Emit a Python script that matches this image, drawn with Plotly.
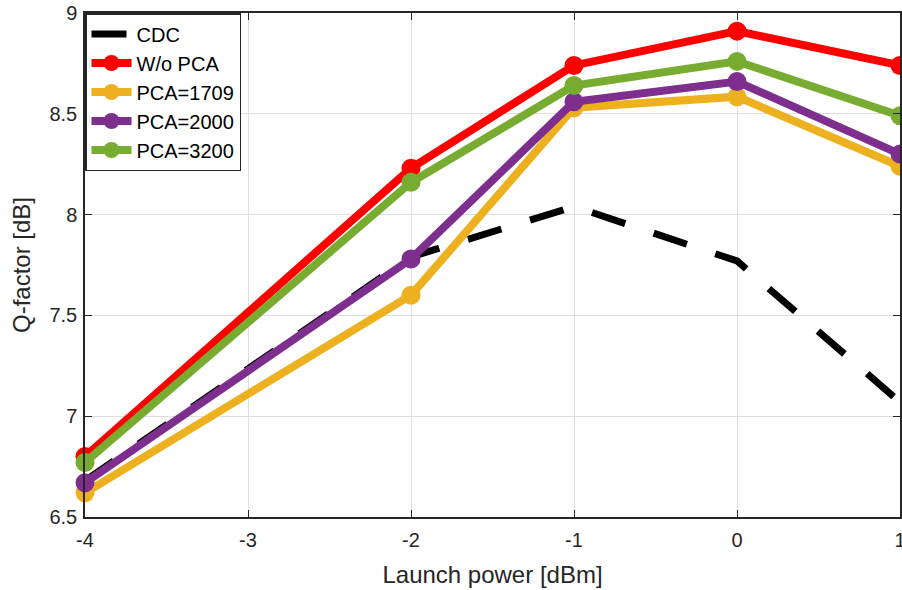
import plotly.graph_objects as go

# Launch power sweep (dBm) and measured Q-factor (dB) per receiver configuration
launch_power = [-4, -2, -1, 0, 1]
q_cdc = [6.68, 7.79, 8.04, 7.77, 7.07]
q_wo_pca = [6.80, 8.23, 8.74, 8.91, 8.74]
q_pca_1709 = [6.62, 7.60, 8.53, 8.585, 8.24]
q_pca_2000 = [6.67, 7.78, 8.56, 8.66, 8.30]
q_pca_3200 = [6.77, 8.16, 8.64, 8.76, 8.49]

x_ticks = [-4, -3, -2, -1, 0, 1]
x_tick_text = ["-4", "-3", "-2", "-1", "0", "1"]
y_ticks = [6.5, 7, 7.5, 8, 8.5, 9]
y_tick_text = ["6.5", "7", "7.5", "8", "8.5", "9"]

FONT = "Liberation Sans, Arial, sans-serif"
INK = "#262626"

fig = go.Figure()

fig.add_trace(go.Scatter(
    x=launch_power, y=q_cdc, name="CDC", mode="lines",
    line=dict(color="black", width=7, dash="35px,30px"),
    cliponaxis=False,
))

series = [
    ("W/o PCA", q_wo_pca, "#FF0000"),
    ("PCA=1709", q_pca_1709, "#EDB120"),
    ("PCA=2000", q_pca_2000, "#7E2F8E"),
    ("PCA=3200", q_pca_3200, "#77AC30"),
]
for name, values, color in series:
    fig.add_trace(go.Scatter(
        x=launch_power, y=values, name=name, mode="lines+markers",
        line=dict(color=color, width=8),
        marker=dict(color=color, size=19),
        cliponaxis=False,
    ))

axis_common = dict(
    showgrid=True, gridcolor="#dedede", gridwidth=1,
    showline=True, linecolor=INK, linewidth=1.5, mirror="ticks",
    ticks="inside", ticklen=7, tickwidth=1.2, tickcolor=INK,
    tickfont=dict(family=FONT, size=20, color=INK),
    zeroline=False, ticklabeloverflow="allow", automargin=False,
)

fig.update_layout(
    width=902, height=590,
    margin=dict(l=85, r=2, t=13, b=73, autoexpand=False),
    paper_bgcolor="white", plot_bgcolor="white",
    font=dict(family=FONT, color=INK),
    xaxis=dict(
        range=[-4, 1], tickvals=x_ticks, ticktext=x_tick_text,
        ticklabelstandoff=4,
        title=dict(text="Launch power [dBm]", font=dict(family=FONT, size=24, color=INK), standoff=16),
        **axis_common,
    ),
    yaxis=dict(
        range=[6.5, 9], tickvals=y_ticks, ticktext=y_tick_text,
        ticklabelstandoff=2,
        title=dict(text="Q-factor [dB]", font=dict(family=FONT, size=24, color=INK), standoff=12),
        **axis_common,
    ),
    legend=dict(
        x=0, y=1, xanchor="left", yanchor="top",
        bgcolor="white", bordercolor=INK, borderwidth=1.5,
        font=dict(family=FONT, size=20, color="black"),
        tracegroupgap=0, itemwidth=40,
    ),
)

fig.write_html("out.html")
